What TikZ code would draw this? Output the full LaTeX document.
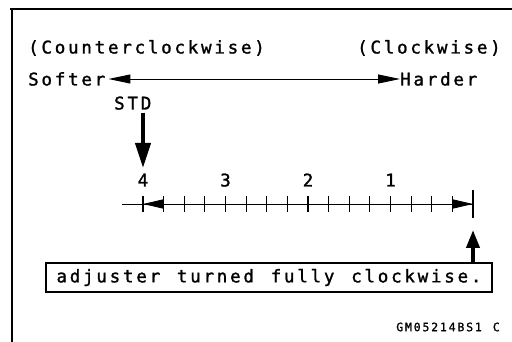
\documentclass[tikz,border=0pt]{standalone}
\usepackage{fontspec}
\newfontfamily\gfont[LetterSpace=15.8,WordSpace=1.26,FakeBold=1.4]{DejaVu Sans Mono}
\newfontfamily\codefont[LetterSpace=15.8,WordSpace=1.26,FakeBold=1.2]{DejaVu Sans Mono}
\usetikzlibrary{positioning,arrows.meta}

\begin{document}
\begin{tikzpicture}[x=1pt, y=-1pt, font={\fontsize{17.5pt}{19pt}\gfont},
  lbl/.style={inner sep=0pt, text height=13pt, text depth=0pt, anchor=west},
  num/.style={inner sep=0pt, text height=13pt, text depth=0pt},
  thin/.style={line width=0.9pt},
  tick/.style={line width=1.2pt},
  fat/.style={line width=4pt}]
\useasboundingbox (0,0) rectangle (512,342);
\draw[line width=2.5pt] (10,9) -- (512,9);
\draw[line width=2.5pt] (12,9) -- (12,342);
\node[lbl] (ccw) at (28,47) {(Counterclockwise)};
\node[lbl] (cw) at (357,47) {(Clockwise)};
\node[lbl] (soft) at (28,79) {Softer};
\node[lbl] (hard) at (400,79) {Harder};
\draw[thin, {Triangle[length=22pt,width=9pt]}-{Triangle[length=22pt,width=9pt]}, shorten <=3pt] (soft.east) -- (hard.west);
\node[lbl] (std) at (114,103) {STD};
\coordinate (stdtip) at (143,168);
\draw[fat, -{Triangle[length=25pt,width=15pt]}, shorten <=3pt] (std.south -| stdtip) -- (stdtip);
\foreach \n [count=\i from 0] in {4,3,2,1}
  \node[num] (n\n) at (143+82.5*\i,180) {\n};
\coordinate (sl) at (122,204);
\coordinate (s0) at (143,204);
\coordinate (s16) at (473,204);
\draw[thin] (sl) -- (s16);
\foreach \i in {0,...,15}
  \draw[tick] (143+20.625*\i,196) -- ++(0,16);
\draw[tick] (473,190) -- (473,218);
\draw[thin, {Triangle[length=20pt,width=9pt]}-{Triangle[length=20pt,width=9pt]}] (s0) -- (s16);
\node[draw, line width=1.2pt, minimum width=446pt, minimum height=29pt, inner sep=0pt] (note) at (269,277.5) {adjuster turned fully clockwise.};
\coordinate (full) at (473,230);
\draw[fat, -{Triangle[length=18pt,width=13pt]}] (note.north -| full) -- (full);
\node[anchor=east, inner sep=0pt, font={\fontsize{11.5pt}{13pt}\codefont}] (code) at (500,327) {GM05214BS1 C};
\end{tikzpicture}
\end{document}
